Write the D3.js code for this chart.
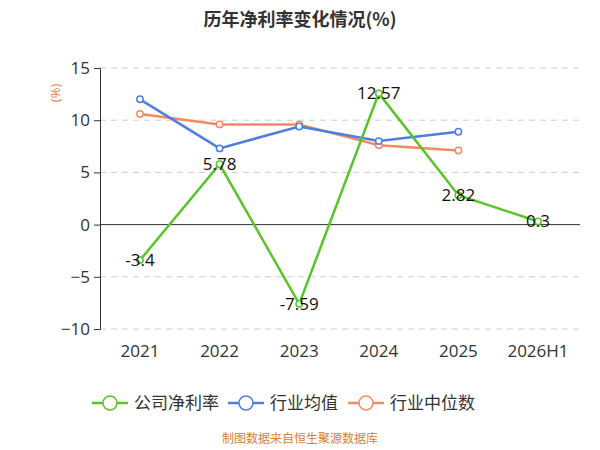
<!DOCTYPE html>
<html>
  <head>
    <meta charset="utf-8">
    <script src="https://cdn.jsdelivr.net/npm/d3@7"></script>
    <style>
      body { margin: 0; background: #fff; font-family: "Open Sans", "Noto Sans CJK SC", sans-serif; }
    </style>
  </head>
  <body>
    <svg id="chart" width="600" height="450"></svg>
    <script>
      // data
      const years = ["2021", "2022", "2023", "2024", "2025", "2026H1"];
      const company = [-3.4, 5.78, -7.59, 12.57, 2.82, 0.3];
      const industryAvg = [12.0, 7.3, 9.4, 8.0, 8.9];
      const industryMedian = [10.6, 9.6, 9.6, 7.6, 7.1];
      const yTicks = [-10, -5, 0, 5, 10, 15];

      const svg = d3.select("#chart");
      const cjk = "'Noto Sans CJK SC', sans-serif";

      const x = d3.scalePoint().domain(years).range([140, 538]);
      const y = d3.scaleLinear().domain([-10, 15]).range([329, 68]);

      // title
      svg.append("text")
        .attr("x", 300).attr("y", 26)
        .attr("text-anchor", "middle")
        .style("font-family", cjk).style("font-weight", "bold").style("font-size", "18px")
        .attr("fill", "#333")
        .text("历年净利率变化情况(%)");

      // grid
      svg.append("g").selectAll("line")
        .data(yTicks.filter(d => d !== 0))
        .join("line")
          .attr("x1", 100).attr("x2", 580)
          .attr("y1", d => y(d)).attr("y2", d => y(d))
          .attr("stroke", "#ccc").attr("stroke-dasharray", "6,5");

      // y axis
      const yAxis = svg.append("g")
        .attr("transform", "translate(100,0)")
        .call(d3.axisLeft(y).tickValues(yTicks).tickSize(6).tickPadding(4));
      yAxis.select(".domain").attr("stroke", "#333");
      yAxis.selectAll("line").attr("stroke", "#333");
      yAxis.selectAll("text").style("font-size", "17px").attr("fill", "#333")
        .style("font-family", "'Open Sans', sans-serif");

      // zero line
      svg.append("line")
        .attr("x1", 100).attr("x2", 580)
        .attr("y1", y(0)).attr("y2", y(0))
        .attr("stroke", "#333");

      // x labels
      svg.append("g").selectAll("text")
        .data(years)
        .join("text")
          .attr("x", d => x(d)).attr("y", 357)
          .attr("text-anchor", "middle")
          .style("font-size", "17px").attr("fill", "#333")
          .text(d => d);

      // unit label
      svg.append("text")
        .attr("transform", "translate(60,93) rotate(-90)")
        .attr("text-anchor", "middle")
        .style("font-size", "13px").attr("fill", "#f07845")
        .text("(%)");

      const line = d3.line().x((d, i) => x(years[i])).y(d => y(d));

      function series(data, color) {
        svg.append("path")
          .datum(data)
          .attr("d", line)
          .attr("fill", "none").attr("stroke", color).attr("stroke-width", 2.5);
        svg.append("g").selectAll("circle")
          .data(data)
          .join("circle")
            .attr("cx", (d, i) => x(years[i])).attr("cy", d => y(d))
            .attr("r", 3.2)
            .attr("fill", "#fff").attr("stroke", color).attr("stroke-width", 1.5);
      }

      series(industryMedian, "#f7895e");
      series(industryAvg, "#4c7fe0");
      series(company, "#5ac42b");

      // company labels
      svg.append("g").selectAll("text")
        .data(company)
        .join("text")
          .attr("x", (d, i) => x(years[i])).attr("y", d => y(d) + 6)
          .attr("text-anchor", "middle")
          .style("font-size", "17px").attr("fill", "#111")
          .text(d => d);

      // legend
      const legend = [["公司净利率", "#5ac42b"], ["行业均值", "#4c7fe0"], ["行业中位数", "#f7895e"]];
      const lx = [92, 228, 348];
      legend.forEach((l, i) => {
        const g = svg.append("g").attr("transform", `translate(${lx[i]},403)`);
        g.append("line").attr("x1", 0).attr("x2", 36).attr("stroke", l[1]).attr("stroke-width", 2.5);
        g.append("circle").attr("cx", 18).attr("r", 7).attr("fill", "#fff").attr("stroke", l[1]).attr("stroke-width", 1.5);
        g.append("text").attr("x", 42).attr("y", 6)
          .style("font-family", cjk).style("font-size", "17px").attr("fill", "#333")
          .text(l[0]);
      });

      // source
      svg.append("text")
        .attr("x", 300).attr("y", 443)
        .attr("text-anchor", "middle")
        .style("font-family", cjk).style("font-size", "12px").attr("fill", "#d9822b")
        .text("制图数据来自恒生聚源数据库");
    </script>
  </body>
</html>
